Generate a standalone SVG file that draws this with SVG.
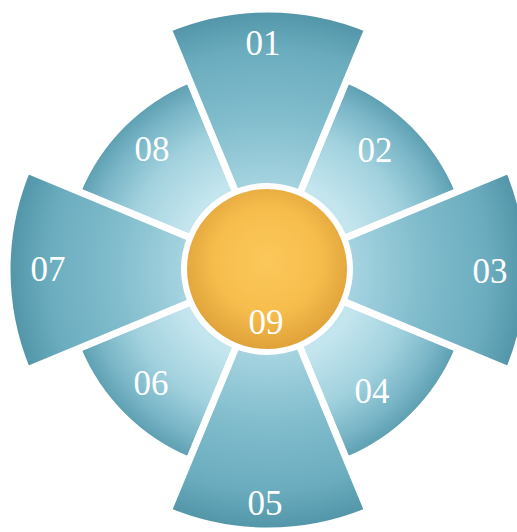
<svg xmlns="http://www.w3.org/2000/svg" width="517" height="532" viewBox="0 0 517 532">
<defs>
<radialGradient id="gOdd" gradientUnits="userSpaceOnUse" cx="268" cy="270" r="261">
<stop offset="0.3" stop-color="#a9d6e2"/>
<stop offset="0.6" stop-color="#80bccc"/>
<stop offset="0.85" stop-color="#6aacbe"/>
<stop offset="1" stop-color="#5194a7"/>
</radialGradient>
<radialGradient id="gEven" gradientUnits="userSpaceOnUse" cx="268" cy="270" r="206">
<stop offset="0.45" stop-color="#c3e5ee"/>
<stop offset="0.7" stop-color="#a2d2de"/>
<stop offset="0.88" stop-color="#7ab6c7"/>
<stop offset="1" stop-color="#5a9db0"/>
</radialGradient>
<radialGradient id="gSun" cx="0.5" cy="0.45" r="0.55">
<stop offset="0" stop-color="#fcc85a"/>
<stop offset="0.6" stop-color="#f6bd4c"/>
<stop offset="1" stop-color="#dfa23a"/>
</radialGradient>
</defs>
<style>
.odd{fill:url(#gOdd);stroke:#fff;stroke-width:7;stroke-linejoin:miter}
.even{fill:url(#gEven);stroke:#fff;stroke-width:7;stroke-linejoin:miter}
.lbl{font-family:"Liberation Serif","DejaVu Serif",serif;font-size:35px;fill:#fff;text-anchor:middle}
</style>
<g id="n08"><path class="even" d="M268,270 L77.68,191.17 A206,206 0 0 1 189.17,79.68 Z"/><text class="lbl" x="152" y="161">08</text></g>
<g id="n02"><path class="even" d="M268,270 L346.83,79.68 A206,206 0 0 1 458.32,191.17 Z"/><text class="lbl" x="375" y="162">02</text></g>
<g id="n04"><path class="even" d="M268,270 L458.32,348.83 A206,206 0 0 1 346.83,460.32 Z"/><text class="lbl" x="372" y="403">04</text></g>
<g id="n06"><path class="even" d="M268,270 L189.17,460.32 A206,206 0 0 1 77.68,348.83 Z"/><text class="lbl" x="151" y="395">06</text></g>
<g id="n01"><path class="odd" d="M268,270 L168.12,28.87 A261,261 0 0 1 367.88,28.87 Z"/><text class="lbl" x="263" y="55">01</text></g>
<g id="n03"><path class="odd" d="M268,270 L509.13,170.12 A261,261 0 0 1 509.13,369.88 Z"/><text class="lbl" x="490" y="283">03</text></g>
<g id="n05"><path class="odd" d="M268,270 L367.88,511.13 A261,261 0 0 1 168.12,511.13 Z"/><text class="lbl" x="265" y="515">05</text></g>
<g id="n07"><path class="odd" d="M268,270 L26.87,369.88 A261,261 0 0 1 26.87,170.12 Z"/><text class="lbl" x="48" y="281">07</text></g>
<g id="n09"><circle cx="267" cy="269" r="86" fill="#fff"/><circle cx="267" cy="269" r="80" fill="url(#gSun)"/><text class="lbl" x="266" y="334">09</text></g>
<g id="connectors"/>
</svg>
